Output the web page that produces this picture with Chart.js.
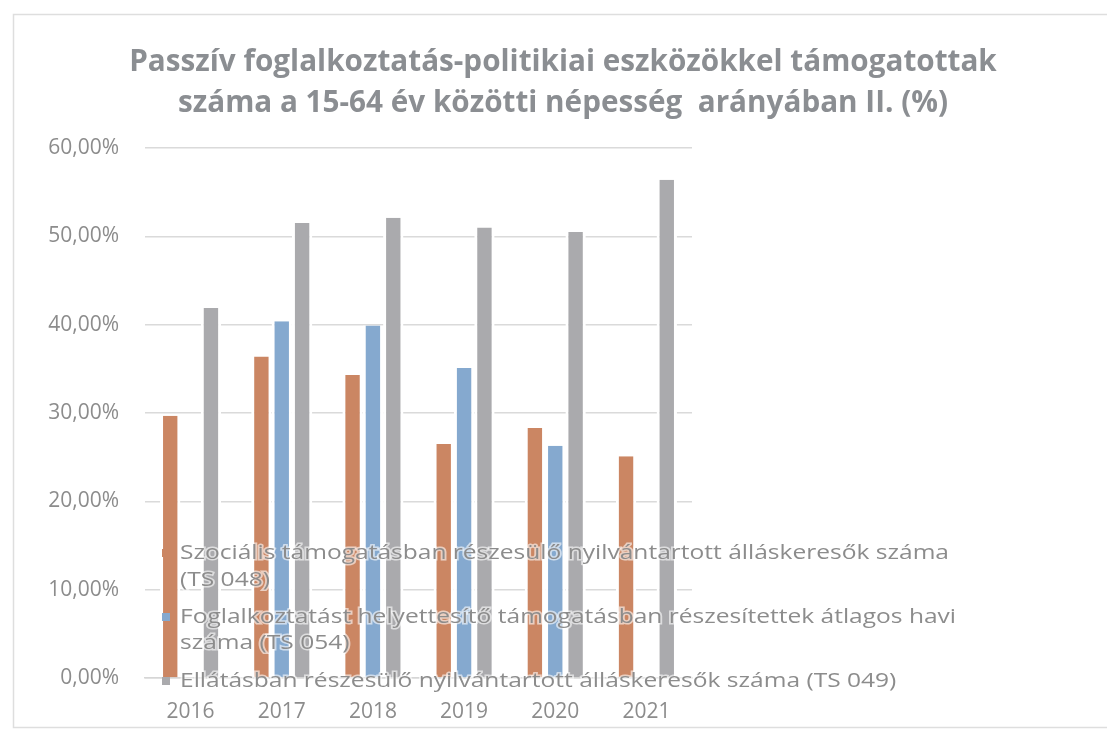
<!DOCTYPE html>
<html>
<head>
<meta charset="utf-8">
<script src="https://cdn.jsdelivr.net/npm/chart.js@4/dist/chart.umd.min.js"></script>
<style>
  html, body { margin: 0; padding: 0; background: #fff; }
  #wrap { width: 1107px; height: 735px; }
</style>
</head>
<body>
<div id="wrap"><canvas id="chart" width="1107" height="735"></canvas></div>
<script>
const years = ['2016', '2017', '2018', '2019', '2020', '2021'];
// % values
const szocialis = [29.7, 36.4, 34.3, 26.5, 28.3, 25.1];
const fht = [null, 40.4, 39.9, 35.1, 26.3, null];
const ellatas = [41.9, 51.5, 52.1, 51.0, 50.5, 56.4];
const yTicks = [0, 10, 20, 30, 40, 50, 60];

const titleLines = [
  'Passzív foglalkoztatás-politikiai eszközökkel támogatottak',
  'száma a 15-64 év közötti népesség  arányában II. (%)'
];
// legend entries, wrapped as in the original
const seriesLines = [
  ['Szociális támogatásban részesülő nyilvántartott álláskeresők száma', '(TS 048)'],
  ['Foglalkoztatást helyettesítő támogatásban részesítettek átlagos havi', 'száma (TS 054)'],
  ['Ellátásban részesülő nyilvántartott álláskeresők száma (TS 049)']
];

const textGray = '#8c8c8c';
const fontFam = '"Open Sans", sans-serif';

// frame + title
const framePlugin = {
  id: 'frame',
  beforeDraw(chart) {
    const ctx = chart.ctx;
    ctx.save();
    ctx.fillStyle = '#fff';
    ctx.fillRect(0, 0, chart.width, chart.height);
    ctx.strokeStyle = '#dedede';
    ctx.lineWidth = 1.5;
    ctx.strokeRect(13.5, 14.5, 1200, 713);
    ctx.fillStyle = '#8b8e92';
    ctx.textAlign = 'center';
    ctx.textBaseline = 'middle';
    ctx.font = 'bold 100px ' + fontFam;
    const w = ctx.measureText(titleLines[0]).width;
    const size = 100 * 867 / w;
    ctx.font = 'bold ' + size.toFixed(1) + 'px ' + fontFam;
    ctx.fillText(titleLines[0], 563, 63);
    ctx.fillText(titleLines[1], 563, 104);
    ctx.restore();
  }
};

// legend drawn on top of the bars, like in the original
const legendPlugin = {
  id: 'overLegend',
  afterDraw(chart) {
    const ctx = chart.ctx;
    ctx.save();
    ctx.font = '20px ' + fontFam;
    ctx.textBaseline = 'middle';
    ctx.textAlign = 'left';
    // the scan is stretched sideways, so widen the text to match
    const sx = 769 / ctx.measureText(seriesLines[0][0]).width;
    const lineYs = [[553, 580], [617, 643], [681]];
    chart.data.datasets.forEach((ds, i) => {
      const ys = lineYs[i];
      ctx.fillStyle = ds.backgroundColor;
      ctx.fillRect(162, ys[0] - 4, 8, 8);
      seriesLines[i].forEach((ln, j) => {
        ctx.save();
        ctx.translate(180, ys[j]);
        ctx.scale(sx, 1);
        ctx.strokeStyle = 'rgba(255,255,255,0.6)';
        ctx.lineWidth = 3;
        ctx.strokeText(ln, 0, 0);
        ctx.fillStyle = textGray;
        ctx.fillText(ln, 0, 0);
        ctx.restore();
      });
    });
    ctx.restore();
  }
};

const barBorder = { top: 0, bottom: 0, left: 3, right: 3 };

new Chart(document.getElementById('chart'), {
  type: 'bar',
  data: {
    labels: years,
    datasets: [
      { label: seriesLines[0].join(' '), data: szocialis, backgroundColor: '#cb8663', borderColor: '#fff', borderWidth: barBorder },
      { label: seriesLines[1].join(' '), data: fht, backgroundColor: '#85a9cf', borderColor: '#fff', borderWidth: barBorder },
      { label: seriesLines[2].join(' '), data: ellatas, backgroundColor: '#aaaaad', borderColor: '#fff', borderWidth: barBorder }
    ]
  },
  options: {
    responsive: false,
    animation: false,
    layout: { padding: { top: 148, right: 415, bottom: 0, left: 0 } },
    plugins: {
      legend: { display: false },
      title: { display: false },
      tooltip: { enabled: false }
    },
    datasets: {
      bar: { categoryPercentage: 0.67, barPercentage: 1.0 }
    },
    scales: {
      x: {
        grid: { display: false },
        border: { display: true, color: '#d6d6d6', width: 1.5 },
        ticks: { color: textGray, font: { size: 21, family: fontFam }, padding: 13 },
        afterFit(scale) { scale.height = 57; }
      },
      y: {
        min: 0,
        max: 60,
        afterBuildTicks(scale) { scale.ticks = yTicks.map(v => ({ value: v })); },
        grid: { color: '#dadada', lineWidth: 1.5, drawTicks: false },
        border: { display: false },
        ticks: {
          color: textGray,
          font: { size: 21, family: fontFam },
          padding: 26,
          callback: v => v.toFixed(2).replace('.', ',') + '%'
        },
        afterFit(scale) { scale.width = 145; }
      }
    }
  },
  plugins: [framePlugin, legendPlugin]
});
</script>
</body>
</html>
